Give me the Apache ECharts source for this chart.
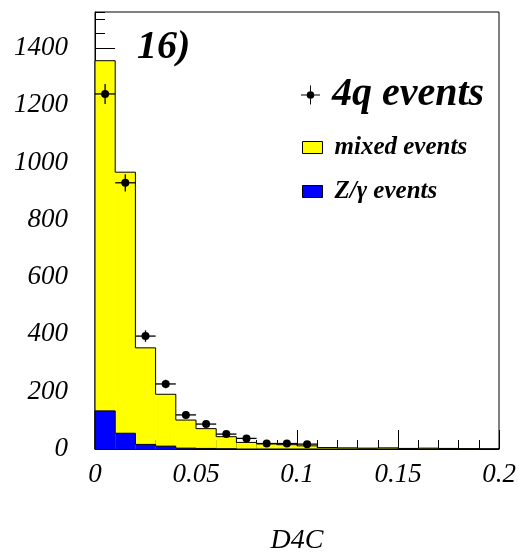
<!DOCTYPE html>
<html>
<head>
<meta charset="utf-8">
<script src="https://cdn.jsdelivr.net/npm/echarts@6/dist/echarts.min.js"></script>
<style>
html,body{margin:0;padding:0;background:#fff;}
#chart{width:519px;height:553px;}
</style>
</head>
<body>
<div id="chart"></div>
<script>
// Bin edges of D4C histogram
const binEdges = [0, 0.01, 0.02, 0.03, 0.04, 0.05, 0.06, 0.07, 0.08, 0.09, 0.1,
                  0.11, 0.12, 0.13, 0.14, 0.15, 0.16, 0.17, 0.18, 0.19, 0.2];
// mixed events (yellow)
const mixedEvents = [1355, 966, 353, 191, 101, 71, 43, 23, 18, 15, 11, 5, 4, 3, 4, 2, 3, 2, 1, 0];
// Z/gamma events (blue)
const zgEvents = [133, 55, 16, 10, 3, 2, 1, 0, 0, 0, 0, 0, 0, 0, 0, 0, 0, 0, 0, 0];
// 4q events (data points) and their errors
const dataEvents = [1239, 929, 394, 227, 119, 87, 52, 37, 19, 19, 17];
const dataErrors = [35, 30, 20, 15, 11, 9, 7, 6, 4, 4, 4];
const xTicks = [0, 0.05, 0.1, 0.15, 0.2];
const yTicks = [0, 200, 400, 600, 800, 1000, 1200, 1400];

const FONT = 'Liberation Serif';

function histSeries(name, vals, color) {
  const data = vals.map((v, i) => [binEdges[i], binEdges[i + 1], v, i > 0 ? vals[i - 1] : 0]);
  return {
    type: 'custom', name: name, data: data,
    itemStyle: { color: color },
    encode: { x: [0, 1], y: 2 },
    renderItem: function (params, api) {
      const x0 = api.value(0), x1 = api.value(1), v = api.value(2), pv = api.value(3);
      const p0 = api.coord([x0, v]);
      const p1 = api.coord([x1, 0]);
      const pp = api.coord([x0, pv]);
      const children = [];
      if (v > 0) {
        children.push({ type: 'rect', shape: { x: p0[0], y: p0[1], width: p1[0] - p0[0], height: p1[1] - p0[1] },
          style: { fill: color } });
      }
      children.push({ type: 'polyline', shape: { points: [[pp[0], pp[1]], [p0[0], p0[1]], [p1[0], p0[1]]] },
        style: { stroke: '#000', lineWidth: 1, fill: null } });
      return { type: 'group', children: children };
    }
  };
}

const pointData = dataEvents.map((v, i) => [binEdges[i], binEdges[i + 1], v, dataErrors[i]]);

const chart = echarts.init(document.getElementById('chart'));
chart.setOption({
  animation: false,
  backgroundColor: '#fff',
  title: {
    text: '16)', left: 132, top: 23,
    textStyle: { fontFamily: FONT, fontStyle: 'italic', fontWeight: 'bold', fontSize: 40, color: '#000' }
  },
  legend: [
    {
      data: [{ name: '4q events', icon: 'path://M0,9.5h20v1h-20z M9.5,0h1v20h-1z M14,10a4,4 0 1,1 -8,0a4,4 0 1,1 8,0z', itemStyle: { color: '#000' } }],
      left: 296, top: 70, itemWidth: 19, itemHeight: 19,
      selectedMode: false,
      textStyle: { fontFamily: FONT, fontStyle: 'italic', fontWeight: 'bold', fontSize: 40, color: '#000', padding: [0, 0, 0, 7] }
    },
    {
      data: [{ name: 'mixed events', icon: 'rect', itemStyle: { color: '#ffff00', borderColor: '#000', borderWidth: 1 } }],
      left: 297, top: 130, itemWidth: 20, itemHeight: 12,
      selectedMode: false,
      textStyle: { fontFamily: FONT, fontStyle: 'italic', fontWeight: 'bold', fontSize: 25, color: '#000', padding: [0, 0, 0, 7] }
    },
    {
      data: [{ name: 'Z/γ events', icon: 'rect', itemStyle: { color: '#0000ff', borderColor: '#000', borderWidth: 1 } }],
      left: 297, top: 174, itemWidth: 20, itemHeight: 12,
      selectedMode: false,
      textStyle: { fontFamily: FONT, fontStyle: 'italic', fontWeight: 'bold', fontSize: 25, color: '#000', padding: [0, 0, 0, 7] }
    }
  ],
  grid: { left: 95, top: 12, right: 20, bottom: 104, show: true, borderColor: '#000', borderWidth: 1,
    backgroundColor: 'transparent', containLabel: false, outerBoundsMode: 'none' },
  xAxis: {
    type: 'value', min: xTicks[0], max: xTicks[xTicks.length - 1], interval: 0.05,
    name: 'D4C', nameLocation: 'middle', nameGap: 78,
    nameTextStyle: { fontFamily: FONT, fontStyle: 'italic', fontSize: 28, color: '#000' },
    axisLine: { show: true, lineStyle: { color: '#000', width: 1 } },
    axisTick: { show: true, inside: true, length: 19, lineStyle: { color: '#000' } },
    minorTick: { show: true, splitNumber: 5, length: 9, lineStyle: { color: '#000' } },
    splitLine: { show: false },
    axisLabel: { margin: 12, color: '#000', fontFamily: FONT, fontStyle: 'italic', fontSize: 27,
      formatter: function (v) { return String(+v.toFixed(2)); } }
  },
  yAxis: [
    {
      type: 'value', min: 0, max: 1525, interval: 200,
      axisLine: { show: true, lineStyle: { color: '#000', width: 1 } },
      axisTick: { show: true, inside: true, length: 20, lineStyle: { color: '#000' } },
      splitLine: { show: false },
      axisLabel: { margin: 27, color: '#000', fontFamily: FONT, fontStyle: 'italic', fontSize: 27,
        showMaxLabel: false,
        formatter: function (v) { return yTicks.indexOf(v) >= 0 ? String(v) : ''; } }
    },
    {
      type: 'value', min: 0, max: 1525, interval: 50, position: 'left',
      axisLine: { show: false },
      axisTick: { show: true, inside: true, length: 10, lineStyle: { color: '#000' } },
      splitLine: { show: false },
      axisLabel: { show: false }
    }
  ],
  series: [
    histSeries('mixed events', mixedEvents, '#ffff00'),
    histSeries('Z/γ events', zgEvents, '#0000ff'),
    {
      type: 'custom', name: '4q events', data: pointData,
      itemStyle: { color: '#000' },
      encode: { x: [0, 1], y: 2 },
      z: 5,
      renderItem: function (params, api) {
        const x0 = api.value(0), x1 = api.value(1), v = api.value(2), e = api.value(3);
        const xc = (x0 + x1) / 2;
        const c = api.coord([xc, v]);
        const l = api.coord([x0, v]);
        const r = api.coord([x1, v]);
        const t = api.coord([xc, v + e]);
        const b = api.coord([xc, v - e]);
        return {
          type: 'group', children: [
            { type: 'line', shape: { x1: l[0], y1: l[1], x2: r[0], y2: r[1] }, style: { stroke: '#000', lineWidth: 1.3 } },
            { type: 'line', shape: { x1: t[0], y1: t[1], x2: b[0], y2: b[1] }, style: { stroke: '#000', lineWidth: 1.3 } },
            { type: 'circle', shape: { cx: c[0], cy: c[1], r: 4 }, style: { fill: '#000' } }
          ]
        };
      }
    }
  ]
});
</script>
</body>
</html>
